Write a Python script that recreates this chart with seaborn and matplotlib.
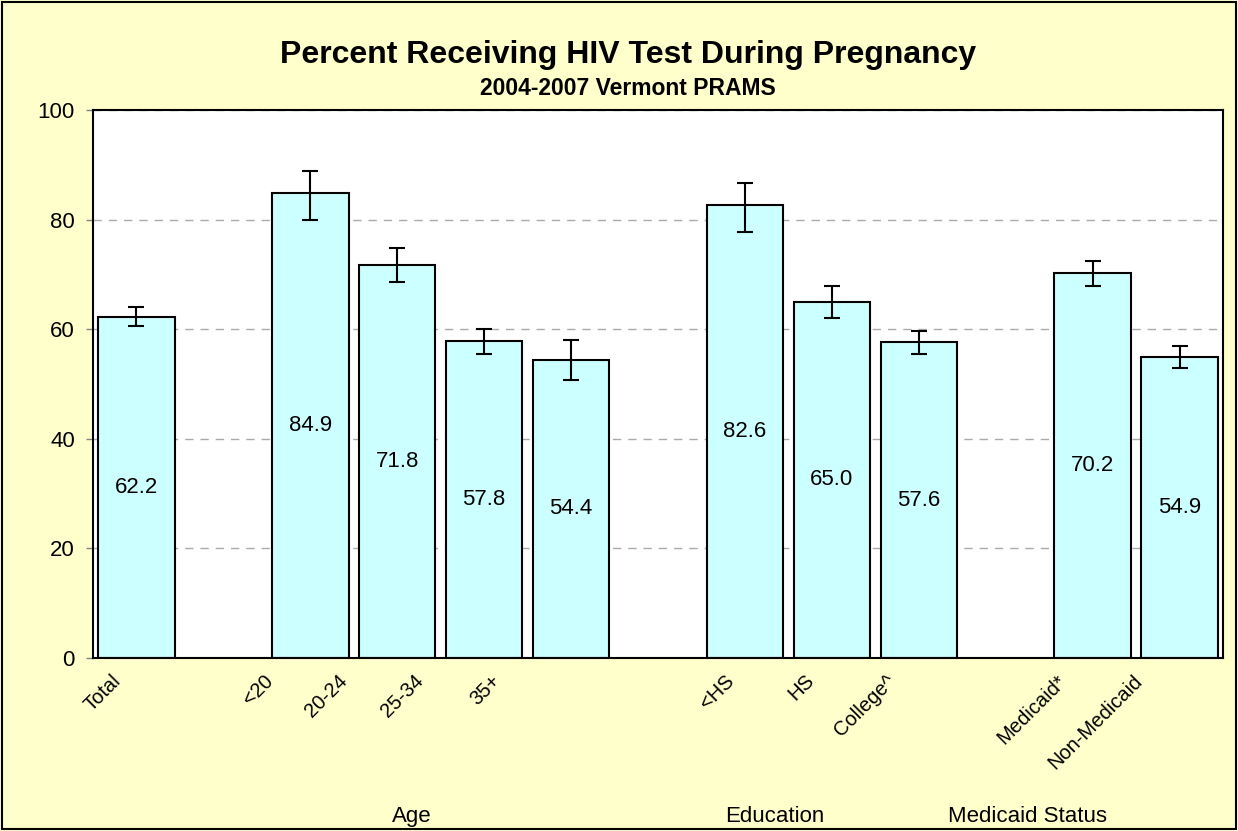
import pandas as pd
import seaborn as sns
import matplotlib.pyplot as plt
from matplotlib.patches import Rectangle
from matplotlib.transforms import ScaledTranslation

# -------------------------------
# Data
# -------------------------------
categories = ["Total", "<20", "20-24", "25-34", "35+", "<HS", "HS", "College^", "Medicaid*", "Non-Medicaid"]
percent = [62.2, 84.9, 71.8, 57.8, 54.4, 82.6, 65.0, 57.6, 70.2, 54.9]
ci_low = [60.6, 80.0, 68.7, 55.5, 50.8, 77.8, 62.1, 55.5, 67.9, 53.0]
ci_high = [64.0, 88.8, 74.8, 60.0, 58.1, 86.6, 67.9, 59.6, 72.4, 57.0]

# blank slots keep the gaps between groups
order = ["Total", " ", "<20", "20-24", "25-34", "35+", "  ",
         "<HS", "HS", "College^", "   ", "Medicaid*", "Non-Medicaid"]
groups = ["Age", "Education", "Medicaid Status"]

# tick labels in the original sit a bit left of their bars (pixels)
label_shift = {"Total": -25, "<20": -47, "20-24": -60, "25-34": -70, "35+": -80,
               "<HS": -21, "HS": -27, "College^": -33, "Medicaid*": -36, "Non-Medicaid": -47}

df = pd.DataFrame({"cat": categories, "pct": percent, "lo": ci_low, "hi": ci_high})

# -------------------------------
# Plot
# -------------------------------
sns.set_style("white")
plt.rcParams["font.family"] = ["Liberation Sans", "DejaVu Sans"]
plt.rcParams["text.color"] = "black"
plt.rcParams["xtick.labelcolor"] = "black"
plt.rcParams["ytick.labelcolor"] = "black"

bg = "#FFFFCC"
fig = plt.figure(figsize=(12.38, 8.31), dpi=100, facecolor=bg)
ax = fig.add_axes([0.0751, 0.2082, 0.9128, 0.6594])
ax.set_facecolor("white")

sns.barplot(data=df, x="cat", y="pct", order=order, color="#CCFFFF",
            edgecolor="black", linewidth=1.5, width=0.88, saturation=1, ax=ax)

pos = [order.index(c) for c in df["cat"]]
ax.errorbar(pos, df["pct"], yerr=[df["pct"] - df["lo"], df["hi"] - df["pct"]],
            fmt="none", ecolor="black", elinewidth=1.5, capsize=5.5, capthick=1.5, zorder=5)

for x, v in zip(pos, df["pct"]):
    ax.text(x, v / 2, f"{v:.1f}", ha="center", va="center", fontsize=16)

ax.set_xlim(-0.5, len(order) - 0.5)
ax.set_ylim(0, 100)
ax.set_yticks(range(0, 101, 20))
ax.yaxis.grid(True, linestyle=(0, (6, 5)), color="#AAAAAA", linewidth=1)
ax.set_axisbelow(True)
ax.tick_params(axis="y", left=True, length=5, width=1, color="#808080", labelsize=16, pad=8)
ax.tick_params(axis="x", bottom=False, labelsize=14.5, pad=6)
for lab in ax.get_xticklabels():
    lab.set_rotation(45)
    lab.set_ha("right")
    lab.set_rotation_mode("anchor")
    dx = label_shift.get(lab.get_text(), 0)
    lab.set_transform(lab.get_transform() + ScaledTranslation(dx / 100, 0, fig.dpi_scale_trans))
for s in ax.spines.values():
    s.set_visible(True)
    s.set_color("black")
    s.set_linewidth(1.5)
ax.set_xlabel("")
ax.set_ylabel("")

fig.text(0.507, 0.934, "Percent Receiving HIV Test During Pregnancy",
         ha="center", va="center", fontsize=23, fontweight="bold")
fig.text(0.507, 0.894, "2004-2007 Vermont PRAMS",
         ha="center", va="center", fontsize=16.5, fontweight="bold")

for gx, g in zip([0.333, 0.626, 0.83], groups):
    fig.text(gx, 0.018, g, ha="center", va="center", fontsize=16)

fig.patches.append(Rectangle((0.002, 0.002), 0.996, 0.996, transform=fig.transFigure,
                             fill=False, edgecolor="black", linewidth=1.5))

fig.savefig("out.png", dpi=100, facecolor=bg)
